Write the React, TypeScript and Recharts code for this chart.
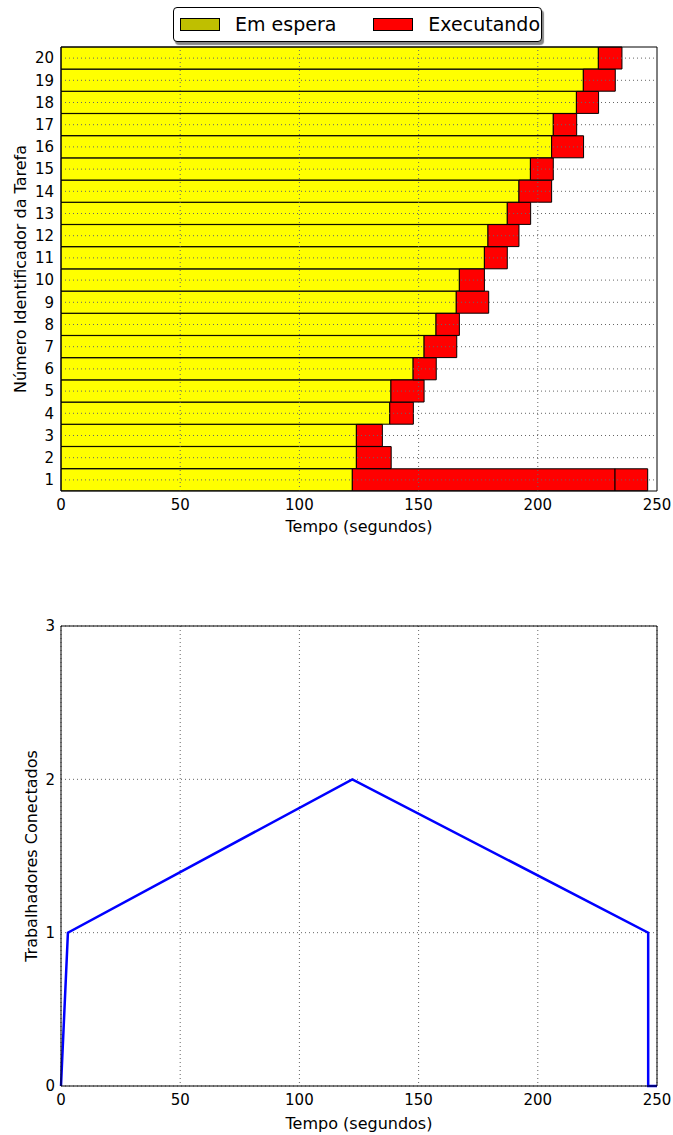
import {
  Bar,
  BarChart,
  CartesianGrid,
  Legend,
  Line,
  LineChart,
  ReferenceLine,
  XAxis,
  YAxis,
} from "recharts";

const FONT = "'DejaVu Sans', sans-serif";

// task ids, bottom to top
const tarefas = [1, 2, 3, 4, 5, 6, 7, 8, 9, 10, 11, 12, 13, 14, 15, 16, 17, 18, 19, 20];
// time (s) when each task leaves the queue
const fimEspera = [
  122.2, 123.9, 123.9, 137.9, 138.4, 147.7, 152.3, 157.3, 165.8, 167.1,
  177.6, 179.1, 187.2, 192.1, 196.9, 205.8, 206.5, 216.2, 219.1, 225.4,
];
// time (s) when each task finished executing
const fimExecucao = [
  232.4, 138.5, 134.8, 147.8, 152.3, 157.4, 166.0, 167.1, 179.4, 177.6,
  187.2, 192.1, 197.0, 205.8, 206.5, 219.2, 216.3, 225.5, 232.5, 235.3,
];
// task 1 ran a second time
const fimReexecucao = [246.1, 0, 0, 0, 0, 0, 0, 0, 0, 0, 0, 0, 0, 0, 0, 0, 0, 0, 0, 0];

const xTicks = [0, 50, 100, 150, 200, 250];

const legendLabels = ["Em espera", "Executando"];
const legendColors = ["#bfbf00", "#ff0000"];

// connected workers over time
const tempos = [0, 2.9, 122.2, 246.3, 246.3, 250];
const conectados = [0, 1, 2, 1, 0, 0];
const yTicksWorkers = [0, 1, 2, 3];

const barData = tarefas.map((t, i) => ({
  tarefa: t,
  espera: fimEspera[i],
  execucao: fimExecucao[i] - fimEspera[i],
  extra: fimReexecucao[i] ? fimReexecucao[i] - fimExecucao[i] : 0,
}));

const lineData = tempos.map((t, i) => ({ t, n: conectados[i] }));

const tickStyle = { fontSize: 15, fill: "#000", fontFamily: FONT };
const gridStroke = { stroke: "#666", strokeWidth: 1, strokeDasharray: "1 3" };

function XTitle({ viewBox, text, dy }: any) {
  if (!viewBox) return null;
  return (
    <text
      x={viewBox.x + viewBox.width / 2}
      y={viewBox.y + dy}
      textAnchor="middle"
      fontSize={16}
      fontFamily={FONT}
      fill="#000"
    >
      {text}
    </text>
  );
}

function YTitle({ viewBox, text, cx }: any) {
  if (!viewBox) return null;
  const cy = viewBox.y + viewBox.height / 2;
  return (
    <text
      x={cx}
      y={cy}
      transform={`rotate(-90, ${cx}, ${cy})`}
      textAnchor="middle"
      dominantBaseline="central"
      fontSize={16}
      fontFamily={FONT}
      fill="#000"
    >
      {text}
    </text>
  );
}

function LegendBox() {
  return (
    <div
      style={{
        boxSizing: "border-box",
        width: 369,
        height: 35,
        border: "1px solid #000",
        borderRadius: 4,
        background: "#fff",
        boxShadow: "2px 3px 1px #888",
        display: "flex",
        alignItems: "center",
        paddingLeft: 6,
        fontFamily: FONT,
        fontSize: 19,
        color: "#000",
      }}
    >
      {legendLabels.map((label, i) => (
        <div key={label} style={{ display: "flex", alignItems: "center", marginRight: i === 0 ? 37 : 0 }}>
          <span
            style={{
              display: "inline-block",
              boxSizing: "border-box",
              width: 40,
              height: 13,
              background: legendColors[i],
              border: "1px solid #000",
              marginRight: 15,
            }}
          />
          <span style={{ lineHeight: "19px" }}>{label}</span>
        </div>
      ))}
    </div>
  );
}

export default function App() {
  return (
    <div style={{ position: "absolute", left: 0, top: 0, width: 673, height: 1135, background: "#fff" }}>
      <BarChart
        width={673}
        height={545}
        data={barData}
        layout="vertical"
        barCategoryGap={0}
        barGap={0}
        margin={{ top: 46, right: 15, bottom: 14, left: 0 }}
      >
        <XAxis
          type="number"
          domain={[0, 250]}
          ticks={xTicks}
          tick={tickStyle}
          fontSize={15}
          tickLine={false}
          axisLine={{ stroke: "#000" }}
          height={40}
          label={<XTitle text="Tempo (segundos)" dy={41} />}
        />
        <XAxis xAxisId="top" orientation="top" type="number" domain={[0, 250]} height={1} tick={false} tickLine={false} axisLine={{ stroke: "#000" }} />
        <YAxis
          type="category"
          dataKey="tarefa"
          reversed
          interval={0}
          width={61}
          tick={tickStyle}
          fontSize={15}
          tickLine={false}
          tickMargin={1}
          axisLine={{ stroke: "#000" }}
          label={<YTitle text="Número Identificador da Tarefa" cx={20} />}
        />
        <YAxis yAxisId="right" orientation="right" type="number" domain={[0, 1]} width={1} tick={false} tickLine={false} axisLine={{ stroke: "#000" }} />
        <Legend
          verticalAlign="middle"
          align="center"
          wrapperStyle={{ top: 7, left: 173, width: 369, height: 35 }}
          content={() => <LegendBox />}
        />
        <Bar dataKey="espera" stackId="a" fill="#ffff00" stroke="#000" strokeWidth={1} isAnimationActive={false} />
        <Bar dataKey="execucao" stackId="a" fill="#ff0000" stroke="#000" strokeWidth={1} isAnimationActive={false} />
        <Bar dataKey="extra" stackId="a" fill="#ff0000" stroke="#000" strokeWidth={1} isAnimationActive={false} />
        {xTicks.slice(1, -1).map((v) => (
          <ReferenceLine key={`x${v}`} x={v} {...gridStroke} />
        ))}
        {tarefas.map((t) => (
          <ReferenceLine key={`y${t}`} y={t} {...gridStroke} />
        ))}
      </BarChart>

      <LineChart
        width={673}
        height={590}
        data={lineData}
        margin={{ top: 80, right: 15, bottom: 9, left: 0 }}
      >
        <CartesianGrid {...gridStroke} />
        <XAxis
          type="number"
          dataKey="t"
          domain={[0, 250]}
          ticks={xTicks}
          tick={tickStyle}
          fontSize={15}
          tickLine={false}
          axisLine={{ stroke: "#000" }}
          height={40}
          label={<XTitle text="Tempo (segundos)" dy={43} />}
        />
        <XAxis xAxisId="top" orientation="top" type="number" domain={[0, 250]} height={1} tick={false} tickLine={false} axisLine={{ stroke: "#000" }} />
        <YAxis
          type="number"
          domain={[0, 3]}
          ticks={yTicksWorkers}
          width={61}
          tick={tickStyle}
          fontSize={15}
          tickLine={false}
          tickMargin={0}
          axisLine={{ stroke: "#000" }}
          label={<YTitle text="Trabalhadores Conectados" cx={31} />}
        />
        <YAxis yAxisId="right" orientation="right" type="number" domain={[0, 1]} width={1} tick={false} tickLine={false} axisLine={{ stroke: "#000" }} />
        <Line
          type="linear"
          dataKey="n"
          stroke="#0000ff"
          strokeWidth={2.5}
          dot={false}
          isAnimationActive={false}
        />
      </LineChart>
    </div>
  );
}
